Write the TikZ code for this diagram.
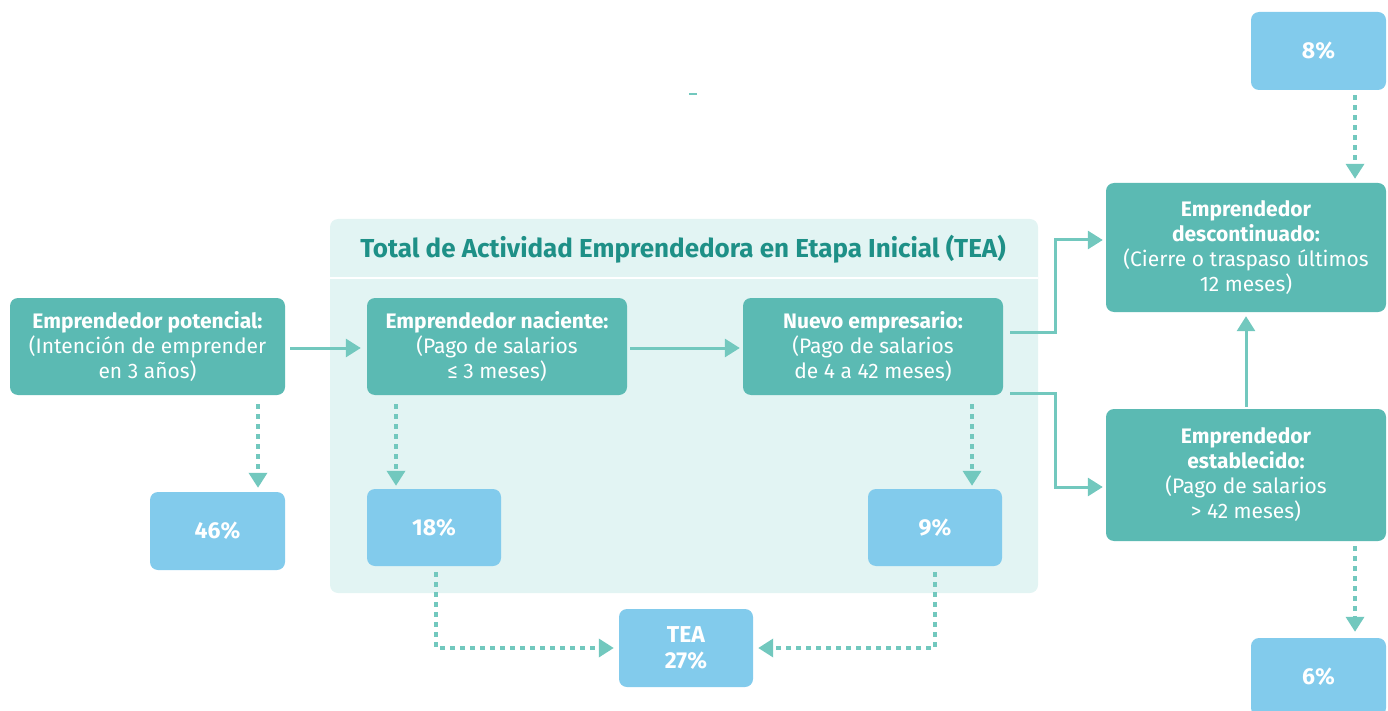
\documentclass[tikz,border=0pt]{standalone}
\usepackage{fontspec}
\setmainfont{Fira Sans}
\usetikzlibrary{arrows.meta,calc}
\definecolor{dteal}{HTML}{5BBAB3}
\definecolor{lblue}{HTML}{82CBEC}
\definecolor{arrc}{HTML}{72C8BE}
\definecolor{cont}{HTML}{E2F4F3}
\definecolor{ttl}{HTML}{1E9087}
\begin{document}
\begin{tikzpicture}[x=1pt,y=-1pt,
 dbox/.style={fill=dteal, rounded corners=8pt, text=white, align=center, font=\fontsize{21}{25}\selectfont, inner sep=0pt},
 pbox/.style={fill=lblue, rounded corners=8pt, text=white, align=center, font=\fontsize{23}{26}\selectfont\bfseries, minimum width=135pt, minimum height=78pt, inner sep=0pt},
 arr/.style={draw=arrc, line width=3pt, -{Triangle[length=15pt,width=18pt]}},
 dotarr/.style={draw=arrc, line width=3.5pt, dash pattern=on 5pt off 5pt, -{Triangle[length=15pt,width=18pt]}},
]
\useasboundingbox (0,0) rectangle (1388,711);
\clip (0,0) rectangle (1388,711);

% container
\fill[cont, rounded corners=8pt] (330,219) rectangle (1038,593);
\draw[white, line width=2pt] (330,278) -- (1038,278);
\node[text=ttl, font=\fontsize{26}{30}\selectfont\bfseries] (title) at (683,249) {Total de Actividad Emprendedora en Etapa Inicial (TEA)};

% stray mark
\draw[arrc, line width=2pt] (689,94) -- (697,94);

% main boxes
\node[dbox, minimum width=275pt, minimum height=97pt] (pot) at (147.5,346.5)
  {\textbf{Emprendedor potencial:}\\(Intención de emprender\\en 3 años)};
\node[dbox, minimum width=260pt, minimum height=97pt] (nac) at (497,346.5)
  {\textbf{Emprendedor naciente:}\\(Pago de salarios\\≤ 3 meses)};
\node[dbox, minimum width=260pt, minimum height=97pt] (nue) at (873,346.5)
  {\textbf{Nuevo empresario:}\\(Pago de salarios\\de 4 a 42 meses)};
\node[dbox, minimum width=280pt, minimum height=129pt] (desc) at (1246,247.5)
  {\textbf{Emprendedor}\\\textbf{descontinuado:}\\(Cierre o traspaso últimos\\12 meses)};
\node[dbox, minimum width=280pt, minimum height=132pt] (est) at (1246,475)
  {\textbf{Emprendedor}\\\textbf{establecido:}\\(Pago de salarios\\> 42 meses)};

% percentage boxes
\node[pbox] (p46) at (217.5,531) {46\%};
\node[pbox, minimum width=134pt, minimum height=77pt] (p18) at (434,527.5) {18\%};
\node[pbox, minimum width=134pt, minimum height=77pt] (p9) at (935,527.5) {9\%};
\node[pbox, minimum width=134pt] (tea) at (686,648) {TEA\\27\%};
\node[pbox] (p8) at (1318.5,51) {8\%};
\node[pbox] (p6) at (1318.5,677) {6\%};

% solid arrows
\draw[arr] ([shift={(5,1.5)}]pot.east) -- ([shift={(-6,1.5)}]nac.west);
\draw[arr] ([shift={(3,1.5)}]nac.east) -- ([shift={(-3,1.5)}]nue.west);
\draw[arr] ([shift={(7,-14.5)}]nue.east) -- ++(45,0) |- ([shift={(-3,-7.5)}]desc.west);
\draw[arr] ([shift={(7,46.5)}]nue.east) -- ++(45,0) |- ([shift={(-3,12)}]est.west);
\draw[arr] ([shift={(0,-2)}]est.north) -- ([shift={(0,4)}]desc.south);

% dotted arrows
\draw[dotarr] ([shift={(110.5,9)}]pot.south) -- ([shift={(40.5,-4)}]p46.north);
\draw[dotarr] ([shift={(-101,9)}]nac.south) -- ([shift={(-38,-3)}]p18.north);
\draw[dotarr] ([shift={(99,9)}]nue.south) -- ([shift={(37,-3)}]p9.north);
\draw[dotarr] ([shift={(2,6)}]p18.south) |- ([shift={(-5,0)}]tea.west);
\draw[dotarr] ([shift={(0,6)}]p9.south) |- ([shift={(5,0)}]tea.east);
\draw[dotarr] ([shift={(36.5,5)}]p8.south) -- ([shift={(109,-4)}]desc.north);
\draw[dotarr] ([shift={(109,5)}]est.south) -- ([shift={(36.5,-6)}]p6.north);
\end{tikzpicture}
\end{document}
